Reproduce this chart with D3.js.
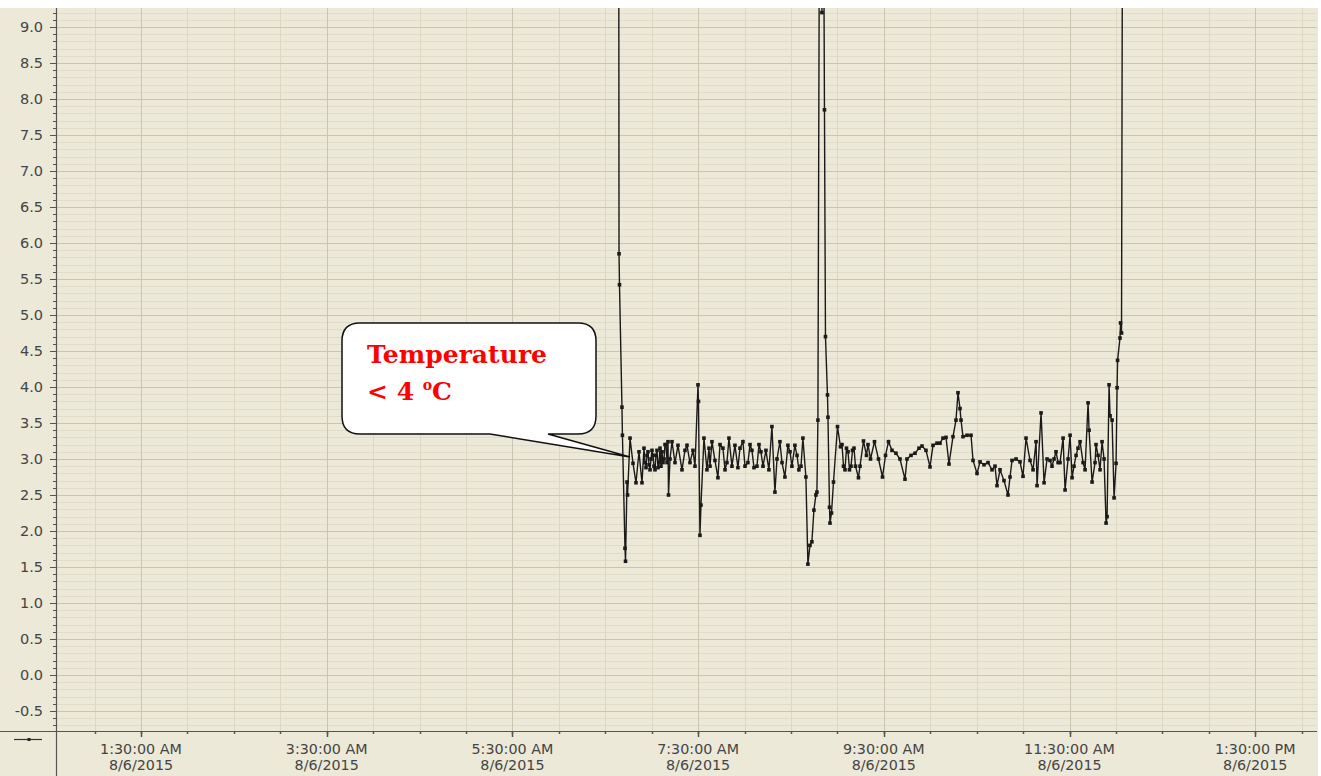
<!DOCTYPE html>
<html>
<head>
<meta charset="utf-8">
<script src="https://cdn.jsdelivr.net/npm/d3@7"></script>
<style>
  body { margin: 0; background: #fff; }
  svg { display: block; }
</style>
</head>
<body>
<svg id="chart"></svg>
<script>
// readings taken on 8/6/2015 (values above the top are off-scale)
const times = [
  "06:38:36","06:38:54","06:39:12","06:40:48","06:41:06","06:42:45","06:43:06","06:44:03","06:44:24","06:46:00",
  "06:47:56","06:49:52","06:51:48","06:53:44","06:55:02","06:56:20","06:57:37","06:58:55","07:00:12","07:01:30",
  "07:02:47","07:04:05","07:05:23","07:07:19","07:10:33","07:10:52","07:11:50","07:13:08","07:15:04","07:17:00",
  "07:19:35","07:21:31","07:22:49","07:24:45","07:26:41","07:27:59","07:29:56","07:30:14","07:31:12","07:31:51",
  "07:33:47","07:35:43","07:38:57","07:40:53","07:42:49","07:46:03","07:48:38","07:49:56","07:51:52","07:53:48",
  "07:55:44","07:58:58","08:02:12","08:04:47","08:08:01","08:10:36","08:13:50","08:15:46","08:17:42","08:19:38",
  "08:22:52","08:26:06","08:28:02","08:30:37","08:32:33","08:35:08","08:37:43","08:39:39","08:40:57","08:42:15",
  "08:43:32","08:44:50","08:46:07","08:46:46","08:47:25","08:48:43","08:50:01","08:50:40","08:51:39","08:52:18",
  "08:53:36","08:53:55","08:54:54","08:55:13","08:56:12","08:57:29","09:00:04","09:02:00","09:03:57","09:05:53",
  "09:07:49","09:09:46","09:11:42","09:13:38","09:16:52","09:18:48","09:21:24","09:23:59","09:26:34","09:29:09",
  "09:31:06","09:33:02","09:35:17","09:37:52","09:40:27","09:43:41","09:44:59","09:47:34","09:50:09","09:52:44",
  "09:54:40","09:57:15","09:59:51","10:01:47","10:04:22","10:06:18","10:08:15","10:10:11","10:12:07","10:14:42",
  "10:16:38","10:17:56","10:19:14","10:19:53","10:21:10","10:23:46","10:26:21","10:27:39","10:30:14","10:32:10",
  "10:34:45","10:37:20","10:39:55","10:41:51","10:43:09","10:45:05","10:47:40","10:50:15","10:51:33","10:52:51",
  "10:55:26","10:58:01","10:59:57","11:01:54","11:04:29","11:06:26","11:08:22","11:09:01","11:11:36","11:13:33",
  "11:15:29","11:17:25","11:20:00","11:22:36","11:25:50","11:27:07","11:29:04","11:30:21","11:31:39","11:34:14",
  "11:36:49","11:38:45","11:40:03","11:41:59","11:42:38","11:44:34","11:46:30","11:48:26","11:51:01","11:52:19",
  "11:53:37","11:54:16","11:55:33","11:56:12","11:57:30","11:58:47","12:00:05","12:00:44","12:01:03","12:02:37",
  "12:02:58","12:03:36","12:04:34"
];
const temps = [
  14, 5.85, 5.42, 3.72, 3.33, 1.76, 1.58, 2.68, 2.5, 3.29,
  2.94, 2.67, 3.1, 2.67, 3.15, 2.88, 3.1, 2.85, 3.12, 2.9,
  3.05, 2.88, 3.15, 2.95, 3.24, 2.5, 3.0, 3.24, 2.95, 3.19,
  2.85, 3.12, 3.19, 2.95, 3.12, 2.9, 4.03, 3.8, 1.94, 2.36,
  3.29, 2.85, 3.24, 2.98, 2.74, 3.15, 2.95, 3.29, 2.9, 3.19,
  2.88, 3.24, 2.95, 3.12, 2.9, 3.1, 3.12, 2.85, 3.45, 2.54,
  3.24, 2.75, 3.19, 2.9, 3.19, 2.85, 3.29, 2.75, 1.54, 1.8,
  1.85, 2.29, 2.5, 2.54, 3.54, 13, 9.2, 13, 7.85, 4.7,
  3.89, 3.58, 2.33, 2.11, 2.25, 2.68, 3.45, 3.17, 2.9, 3.15,
  2.85, 3.12, 2.9, 2.74, 3.25, 3.05, 3.0, 3.24, 3.0, 2.75,
  3.05, 3.24, 3.12, 3.08, 3.0, 2.72, 3.0, 3.05, 3.08, 3.15,
  3.18, 3.12, 2.89, 3.19, 3.22, 3.22, 3.29, 3.3, 2.93, 3.31,
  3.54, 3.92, 3.7, 3.54, 3.31, 3.33, 3.33, 2.98, 2.8, 2.96,
  2.92, 2.95, 2.85, 2.9, 2.63, 2.85, 2.7, 2.5, 2.75, 2.98,
  3.0, 2.96, 2.76, 3.29, 2.98, 2.85, 3.24, 2.63, 3.64, 2.67,
  3.0, 2.98, 3.0, 2.95, 3.29, 2.57, 3.0, 3.33, 2.74, 3.05,
  3.24, 2.95, 2.85, 3.78, 3.4, 2.68, 2.95, 3.05, 3.24, 3.0,
  2.11, 2.2, 4.03, 3.6, 3.54, 2.46, 2.94, 3.99, 4.37, 4.68,
  4.89, 4.75, 14
];
// extra readings inside the dense noisy stretches
const bandTimes = [
  "06:55:41","06:56:59","06:58:16","06:59:34","07:00:52","07:02:09","07:03:26","07:04:44","07:06:01","07:06:40",
  "07:07:58","07:08:37","07:09:16","07:09:55","07:37:02","07:37:41","07:44:09","07:47:23","07:57:04","08:00:18",
  "08:03:32","08:06:07","08:09:21","08:11:56","08:20:59","08:24:13","08:29:23","08:33:55","08:36:29","09:02:59",
  "09:04:55","09:06:52","09:08:48","09:10:44","09:14:37","09:19:47","11:18:41","11:21:16","11:23:52","11:32:54",
  "11:35:29","11:47:07","11:49:43"
];
const bandTemps = [
  2.95, 3.05, 2.92, 3.0, 3.05, 2.85, 3.12, 2.95, 2.9, 3.1,
  3.0, 3.2, 3.2, 2.95, 3.15, 2.9, 3.2, 2.85, 3.15, 2.9,
  3.2, 2.88, 3.2, 2.9, 3.0, 2.95, 3.1, 3.05, 2.9, 3.2,
  2.85, 3.1, 2.9, 3.15, 2.9, 3.2, 2.9, 3.1, 2.95, 2.9,
  3.15, 3.2, 2.85
];
const labelTimes = ["01:30","03:30","05:30","07:30","09:30","11:30","13:30"];
const dayLabel = "8/6/2015";
const calloutLines = ["Temperature", "< 4 "];

const W = 1321, H = 776;
const padL = 56, padR = 1317, padT = 8, padB = 731;
const day = "2015-08-06 ";
const parse = d3.timeParse("%Y-%m-%d %H:%M:%S");
const parseHM = d3.timeParse("%Y-%m-%d %H:%M");
const data = times.map((t, i) => ({ t: parse(day + t), v: temps[i] }))
  .concat(bandTimes.map((t, i) => ({ t: parse(day + t), v: bandTemps[i] })))
  .sort((a, b) => a.t - b.t);

const svg = d3.select("#chart").attr("width", W).attr("height", H);

// background
svg.append("rect").attr("width", W).attr("height", H).attr("fill", "#ece9d9");
svg.append("rect").attr("width", W).attr("height", padT).attr("fill", "#fff");
svg.append("rect").attr("x", W - 3).attr("width", 3).attr("height", H).attr("fill", "#fff");

const x = d3.scaleTime()
  .domain([parse(day + "00:35:05"), parse(day + "14:09:55")])
  .range([padL, padR]);
const y = d3.scaleLinear().domain([-0.778, 9.264]).range([padB, padT]);

// grid
const minorY = d3.range(-7, 93).map(d => d / 10);
const majorY = d3.range(-1, 19).map(d => d / 2);
const halfHours = x.ticks(d3.timeMinute.every(30));
const labelDates = labelTimes.map(t => parseHM(day + t));
const px = v => Math.round(v) + 0.5;

const grid = svg.append("g");
grid.selectAll(".gy").data(minorY).join("line")
  .attr("x1", padL).attr("x2", padR)
  .attr("y1", d => px(y(d))).attr("y2", d => px(y(d)))
  .attr("stroke", "#e0dcc9").attr("stroke-width", 1);
grid.selectAll(".gx").data(halfHours).join("line")
  .attr("x1", d => px(x(d))).attr("x2", d => px(x(d)))
  .attr("y1", padT).attr("y2", padB)
  .attr("stroke", "#dcd8c4").attr("stroke-width", 1);
grid.selectAll(".gY").data(majorY).join("line")
  .attr("x1", padL).attr("x2", padR)
  .attr("y1", d => px(y(d))).attr("y2", d => px(y(d)))
  .attr("stroke", "#c9c5b2").attr("stroke-width", 1);
grid.selectAll(".gX").data(labelDates).join("line")
  .attr("x1", d => px(x(d))).attr("x2", d => px(x(d)))
  .attr("y1", padT).attr("y2", padB)
  .attr("stroke", "#c9c5b2").attr("stroke-width", 1);

// axes
const axisColor = "#555";
const labelFont = "DejaVu Sans, Verdana, sans-serif";
const yAxis = svg.append("g");
yAxis.selectAll(".mt").data(minorY).join("line")
  .attr("x1", padL - 3).attr("x2", padL)
  .attr("y1", d => px(y(d))).attr("y2", d => px(y(d)))
  .attr("stroke", axisColor);
yAxis.selectAll(".Mt").data(majorY).join("line")
  .attr("x1", padL - 6).attr("x2", padL)
  .attr("y1", d => px(y(d))).attr("y2", d => px(y(d)))
  .attr("stroke", axisColor);
yAxis.selectAll("text").data(majorY).join("text")
  .attr("x", padL - 13).attr("y", d => y(d) + 5)
  .attr("text-anchor", "end")
  .attr("font-family", labelFont).attr("font-size", 14.5)
  .attr("fill", "#444")
  .text(d => d.toFixed(1));
svg.append("line").attr("x1", padL + 0.5).attr("x2", padL + 0.5).attr("y1", padT).attr("y2", H)
  .attr("stroke", axisColor).attr("stroke-width", 1.2);

const xAxis = svg.append("g");
svg.append("line").attr("x1", 0).attr("x2", padR).attr("y1", padB + 0.5).attr("y2", padB + 0.5)
  .attr("stroke", axisColor).attr("stroke-width", 1.2);
xAxis.selectAll(".mt").data(halfHours).join("line")
  .attr("x1", d => px(x(d))).attr("x2", d => px(x(d)))
  .attr("y1", padB).attr("y2", padB + 3)
  .attr("stroke", axisColor).attr("stroke-width", 1.5);
xAxis.selectAll(".Mt").data(labelDates).join("line")
  .attr("x1", d => px(x(d))).attr("x2", d => px(x(d)))
  .attr("y1", padB).attr("y2", padB + 6)
  .attr("stroke", axisColor).attr("stroke-width", 1.5);
const fmt = d3.timeFormat("%-I:%M:%S %p");
const xl = xAxis.selectAll("text").data(labelDates).join("text")
  .attr("text-anchor", "middle")
  .attr("font-family", labelFont).attr("font-size", 14.3)
  .attr("fill", "#444");
xl.append("tspan").attr("x", d => x(d)).attr("y", 754).text(d => fmt(d));
xl.append("tspan").attr("x", d => x(d)).attr("y", 770).text(dayLabel);

// legend swatch
svg.append("line").attr("x1", 14).attr("x2", 42).attr("y1", 739.5).attr("y2", 739.5)
  .attr("stroke", "#333").attr("stroke-width", 1.2);
svg.append("rect").attr("x", 27.5).attr("y", 738).attr("width", 3).attr("height", 3).attr("fill", "#222");

// series
svg.append("clipPath").attr("id", "clip").append("rect")
  .attr("x", padL).attr("y", padT).attr("width", padR - padL).attr("height", padB - padT);
const plot = svg.append("g").attr("clip-path", "url(#clip)");
plot.append("path").datum(data)
  .attr("d", d3.line().x(d => x(d.t)).y(d => y(d.v)))
  .attr("fill", "none").attr("stroke", "#1a1a1a").attr("stroke-width", 1.4);
plot.selectAll(".pt").data(data).join("rect")
  .attr("x", d => x(d.t) - 1.8).attr("y", d => y(d.v) - 1.8)
  .attr("width", 3.6).attr("height", 3.6).attr("fill", "#1a1a1a");

// callout
const bx = 342, by = 323, bw = 254, bh = 111, r = 18;
const tipX = 630, tipY = 457, b1 = 490, b2 = 548;
const call = svg.append("g");
call.append("path")
  .attr("d", `M${bx + r},${by} H${bx + bw - r} Q${bx + bw},${by} ${bx + bw},${by + r} V${by + bh - r}
    Q${bx + bw},${by + bh} ${bx + bw - r},${by + bh} H${b2} L${tipX},${tipY} L${b1},${by + bh}
    H${bx + r} Q${bx},${by + bh} ${bx},${by + bh - r} V${by + r} Q${bx},${by} ${bx + r},${by} Z`)
  .attr("fill", "#fff").attr("stroke", "#111").attr("stroke-width", 1.5);
call.append("text").attr("x", 367).attr("y", 363)
  .attr("font-family", "DejaVu Serif, serif").attr("font-weight", "bold").attr("font-size", 25)
  .attr("fill", "#ff0000").attr("textLength", 180)
  .text(calloutLines[0]);
const t2 = call.append("text").attr("x", 367).attr("y", 400)
  .attr("font-family", "DejaVu Serif, serif").attr("font-weight", "bold").attr("font-size", 25)
  .attr("fill", "#ff0000");
t2.append("tspan").text(calloutLines[1]);
t2.append("tspan").attr("font-size", 14).attr("dy", -10).text("o");
t2.append("tspan").attr("dy", 10).text("C");
</script>
</body>
</html>
